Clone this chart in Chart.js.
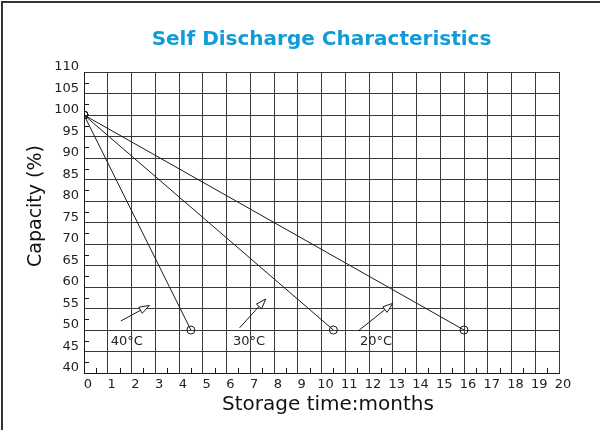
<!DOCTYPE html>
<html>
<head>
<meta charset="utf-8">
<script src="https://cdn.jsdelivr.net/npm/chart.js@4.4.1/dist/chart.umd.min.js"></script>
<style>
  html, body { margin: 0; padding: 0; background: #fff; }
  #wrap { width: 600px; height: 430px; }
</style>
</head>
<body>
<div id="wrap"><canvas id="myChart" width="600" height="430"></canvas></div>
<script>
// data
const temps = ['20°C', '30°C', '40°C'];
const startMonth = 0;
const startCapacity = 100;
const endMonths = [16, 10.5, 4.5];
const endCapacity = [50, 50, 50];
const xTicks = { min: 0, max: 20, step: 1 };
const yTicks = { min: 40, max: 110, step: 5 };

// where the little arrows + temperature labels sit (in chart units)
const notes = [
  { text: '40°C', label: [1.8, 47.3], from: [1.55, 52.1], to: [2.75, 55.7] },
  { text: '30°C', label: [6.95, 47.3], from: [6.55, 50.5], to: [7.65, 57.2] },
  { text: '20°C', label: [12.3, 47.3], from: [11.55, 49.8], to: [13.0, 56.2] }
];

const ink = '#1a1a1a';
const gridColor = '#3a3a3a';
const tickFont = { family: 'DejaVu Sans', size: 13 };

const datasets = temps.map((t, i) => ({
  label: t,
  data: [
    { x: startMonth, y: startCapacity },
    { x: endMonths[i], y: endCapacity[i] }
  ],
  showLine: true,
  borderColor: ink,
  borderWidth: 1,
  pointRadius: 4,
  pointBorderWidth: 1,
  pointBackgroundColor: 'transparent',
  pointBorderColor: ink
}));

function drawArrow(ctx, x1, y1, x2, y2) {
  let a = Math.atan2(y2 - y1, x2 - x1);
  let len = 10, half = 3.5;
  let bx = x2 - len * Math.cos(a), by = y2 - len * Math.sin(a);
  ctx.beginPath();
  ctx.moveTo(x1, y1);
  ctx.lineTo(bx, by);
  ctx.stroke();
  ctx.beginPath();
  ctx.moveTo(x2, y2);
  ctx.lineTo(bx + half * Math.sin(a), by - half * Math.cos(a));
  ctx.lineTo(bx - half * Math.sin(a), by + half * Math.cos(a));
  ctx.closePath();
  ctx.fillStyle = '#fff';
  ctx.fill();
  ctx.stroke();
}

const extras = {
  id: 'extras',
  afterDraw(chart) {
    const ctx = chart.ctx;
    const xs = chart.scales.x, ys = chart.scales.y;
    const area = chart.chartArea;
    ctx.save();
    ctx.strokeStyle = ink;
    ctx.lineWidth = 1;

    // half-step ticks pointing into the plot
    ctx.beginPath();
    for (let v = xTicks.min + xTicks.step / 2; v < xTicks.max; v += xTicks.step) {
      let px = Math.round(xs.getPixelForValue(v)) + 0.5;
      ctx.moveTo(px, area.bottom);
      ctx.lineTo(px, area.bottom - 5);
    }
    for (let v = yTicks.min + yTicks.step / 2; v < yTicks.max; v += yTicks.step) {
      let py = Math.round(ys.getPixelForValue(v)) + 0.5;
      ctx.moveTo(area.left, py);
      ctx.lineTo(area.left + 5, py);
    }
    ctx.stroke();

    // arrows and temperature notes
    ctx.font = '13px "DejaVu Sans"';
    ctx.textAlign = 'center';
    ctx.textBaseline = 'middle';
    notes.forEach((n) => {
      drawArrow(ctx,
        xs.getPixelForValue(n.from[0]), ys.getPixelForValue(n.from[1]),
        xs.getPixelForValue(n.to[0]), ys.getPixelForValue(n.to[1]));
      ctx.fillStyle = '#222';
      ctx.fillText(n.text, xs.getPixelForValue(n.label[0]), ys.getPixelForValue(n.label[1]));
    });

    // axis titles
    ctx.fillStyle = '#111';
    ctx.font = '20px "DejaVu Sans"';
    ctx.fillText('Storage time:months', 328, 405);
    ctx.save();
    ctx.translate(36, 206);
    ctx.rotate(-Math.PI / 2);
    ctx.font = '19px "DejaVu Sans"';
    ctx.fillText('Capacity (%)', 0, 0);
    ctx.restore();

    // frame of the original sheet (top + left edge)
    ctx.strokeStyle = '#333';
    ctx.lineWidth = 2;
    ctx.beginPath();
    ctx.moveTo(2, 430);
    ctx.lineTo(2, 2);
    ctx.lineTo(600, 2);
    ctx.stroke();
    ctx.restore();
  }
};

const ctx = document.getElementById('myChart');

new Chart(ctx, {
  type: 'scatter',
  data: { datasets: datasets },
  plugins: [extras],
  options: {
    responsive: false,
    animation: false,
    devicePixelRatio: 1,
    layout: { padding: { left: 0, right: 41, top: 0, bottom: 0 } },
    plugins: {
      legend: { display: false },
      tooltip: { enabled: false },
      title: {
        display: true,
        text: 'Self Discharge Characteristics',
        fullSize: false,
        color: '#129bd6',
        font: { family: 'DejaVu Sans', size: 20, weight: 'bold' },
        padding: { top: 28, bottom: 20 }
      }
    },
    scales: {
      x: {
        type: 'linear',
        min: xTicks.min,
        max: xTicks.max,
        afterFit: (scale) => { scale.height = 57; },
        ticks: {
          stepSize: xTicks.step,
          autoSkip: false,
          maxRotation: 0,
          padding: 4,
          labelOffset: 4,
          color: '#222',
          font: tickFont
        },
        grid: { color: gridColor, drawTicks: false },
        border: { color: ink, width: 1 }
      },
      y: {
        min: yTicks.min,
        max: yTicks.max,
        afterFit: (scale) => { scale.width = 84; },
        ticks: {
          stepSize: yTicks.step,
          autoSkip: false,
          padding: 5,
          labelOffset: -5,
          color: '#222',
          font: tickFont
        },
        grid: { color: gridColor, drawTicks: false },
        border: { color: ink, width: 1 }
      }
    }
  }
});
</script>
</body>
</html>
